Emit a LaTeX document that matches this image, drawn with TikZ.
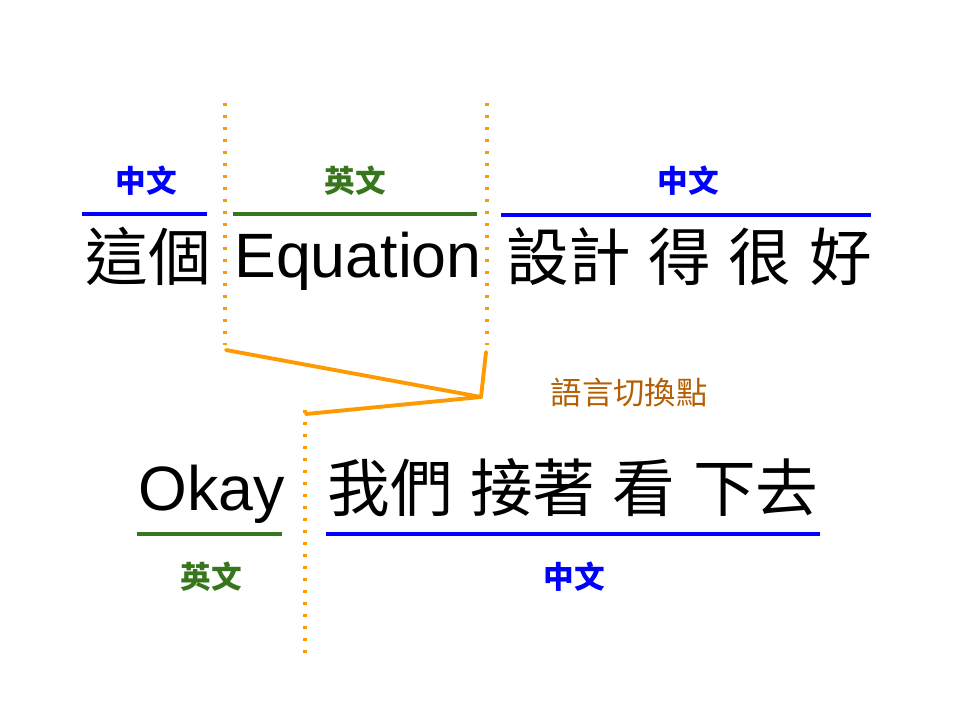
\documentclass[tikz,border=0pt]{standalone}
\usepackage{fontspec}
\setmainfont{Liberation Sans}
\newfontfamily\cjk{Noto Sans CJK TC}
\definecolor{cblue}{HTML}{0000FF}
\definecolor{cgreen}{HTML}{38761D}
\definecolor{corange}{HTML}{FF9900}
\definecolor{cbrown}{HTML}{B45F06}
\begin{document}
\begin{tikzpicture}[x=0.75pt,y=-0.75pt,
  maintext/.style={anchor=base,inner sep=0pt,font=\fontsize{47}{47}\selectfont},
  lbl/.style={anchor=center,inner sep=0pt,font=\cjk\bfseries\fontsize{23}{23}\selectfont},
  uline/.style={line width=2.4pt},
  divider/.style={corange,line width=2.6pt,dash pattern=on 2.6pt off 6.4pt},
  switchline/.style={corange,line width=2.9pt,line join=round,line cap=round}]
\useasboundingbox (0,0) rectangle (960,720);
% top row
\node[maintext] (t1) at (148,281) {\cjk 這個};
\node[maintext] (t2) at (358,278) {Equation};
\node[maintext] (t3) at (689,281) {\cjk 設計\hspace{0.278em}得\hspace{0.278em}很\hspace{0.278em}好};
\draw[uline,cblue] (82,214) -- (207,214);
\draw[uline,cgreen] (233,214) -- (477,214);
\draw[uline,cblue] (501,215) -- (871,215);
\node[lbl,cblue] (l1) at (146,181) {中文};
\node[lbl,cgreen] (l2) at (355,181) {英文};
\node[lbl,cblue] (l3) at (688,181) {中文};
% bottom row
\node[maintext] (b1) at (212,510) {Okay};
\node[maintext] (b2) at (573,511) {\cjk 我們\hspace{0.278em}接著\hspace{0.278em}看\hspace{0.278em}下去};
\draw[uline,cgreen] (137,534) -- (282,534);
\draw[uline,cblue] (326,534) -- (820,534);
\node[lbl,cgreen] (l4) at (211,577) {英文};
\node[lbl,cblue] (l5) at (574,577) {中文};
% dividers
\coordinate (d1a) at (225,103); \coordinate (d1b) at (225,345);
\coordinate (d2a) at (487,103); \coordinate (d2b) at (487,345);
\coordinate (d3a) at (305,410); \coordinate (d3b) at (305,655);
\draw[divider] (d1a) -- (d1b);
\draw[divider] (d2a) -- (d2b);
\draw[divider] (d3a) -- (d3b);
% switch path
\coordinate (s1) at (226,350);
\coordinate (s2) at (481,397);
\coordinate (s3) at (486,352);
\coordinate (s4) at (306,414);
\draw[switchline] (s1) -- (s2) -- (s4);
\draw[switchline] (s3) -- (s2);
\node[anchor=center,inner sep=0pt,cbrown,font=\cjk\fontsize{23.5}{23.5}\selectfont] (sw) at (629,393) {語言切換點};
\end{tikzpicture}
\end{document}
